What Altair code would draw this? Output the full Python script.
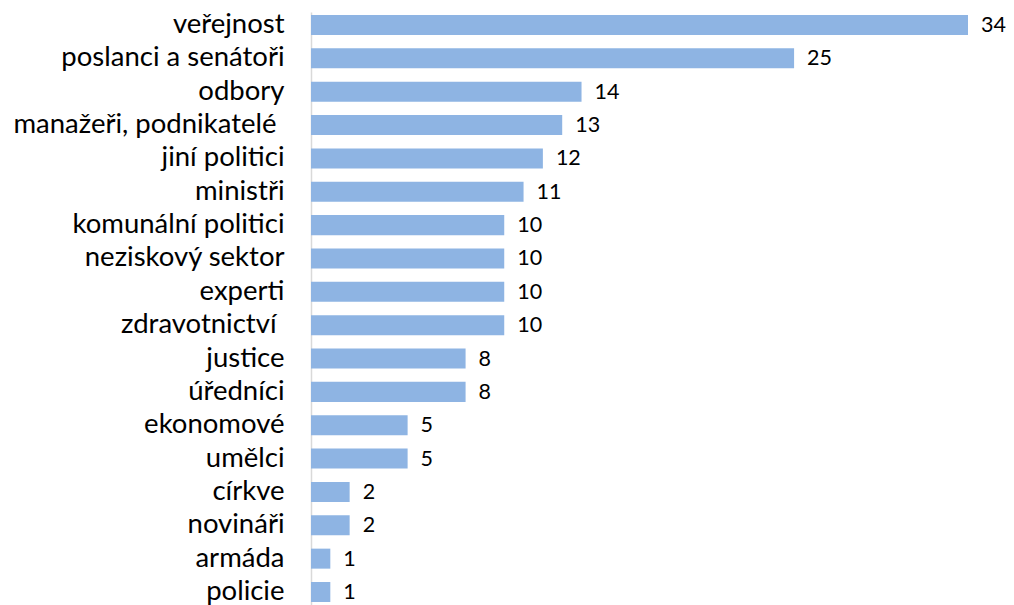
import altair as alt
import pandas as pd

categories = ["veřejnost", "poslanci a senátoři", "odbory", "manažeři, podnikatelé ",
              "jiní politici", "ministři", "komunální politici", "neziskový sektor",
              "experti", "zdravotnictví ", "justice", "úředníci", "ekonomové",
              "umělci", "církve", "novináři", "armáda", "policie"]
values = [34, 25, 14, 13, 12, 11, 10, 10, 10, 10, 8, 8, 5, 5, 2, 2, 1, 1]

df = pd.DataFrame({"cat": categories, "val": values})

FONT = "Lato"

y = alt.Y("cat:N", sort=categories, title=None,
          scale=alt.Scale(paddingInner=0.4, paddingOuter=0.09),
          axis=alt.Axis(labelFontSize=27.5, labelColor="black", labelFont=FONT,
                        ticks=False, domainColor="#D9D9D9", domainWidth=1.5,
                        labelPadding={"condition": {
                            "test": "lastindexof(datum.value, ' ') == length(datum.value) - 1",
                            "value": 35}, "value": 27},
                        labelLimit=400))
x = alt.X("val:Q", title=None, scale=alt.Scale(domain=[0, 34], nice=False, zero=True),
          axis=None)

bars = alt.Chart(df).mark_bar(color="#8EB4E3").encode(x=x, y=y)
labels = alt.Chart(df).mark_text(align="left", baseline="middle", dx=13, dy=1, fontSize=21.5,
                                 font=FONT, color="black").encode(
    x=x, y=alt.Y("cat:N", sort=categories), text="val:Q")

chart = alt.layer(bars, labels).properties(
    width=657, height=593,
    background="white",
    autosize=alt.AutoSizeParams(type="none"),
    padding={"left": 303, "top": 4, "right": 38, "bottom": 0},
).configure_view(stroke=None, strokeWidth=0)

chart.save("out.html", embed_options={"renderer": "svg", "actions": False})
